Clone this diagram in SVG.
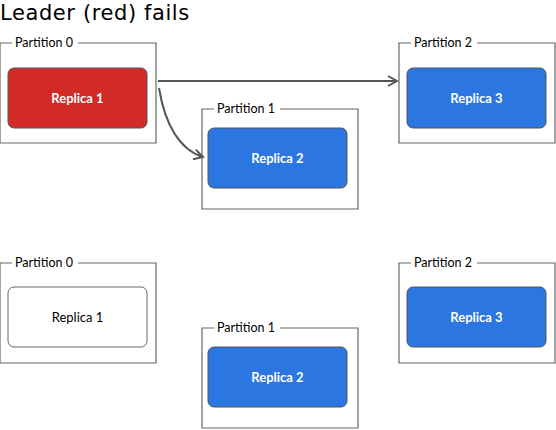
<svg xmlns="http://www.w3.org/2000/svg" width="556" height="430" viewBox="0 0 556 430">
<style>
.part{fill:none;stroke:#666;stroke-width:1.2}
.plabel{font-family:Lato,"Open Sans",sans-serif;font-size:12.5px;fill:#000}
.rep{stroke:#555;stroke-width:1}
.red{fill:#d12a27}
.blue{fill:#2b76e0}
.white{fill:#fff;stroke:#666}
.rtext{font-family:Lato,"Open Sans",sans-serif;font-size:13px;font-weight:bold;text-anchor:middle;fill:#fff}
.rtext.dark{fill:#000;font-weight:normal}
.conn{fill:none;stroke:#555;stroke-width:2}
.title{font-family:"DejaVu Sans",sans-serif;font-size:21px;letter-spacing:0.6px;fill:#000}
</style>
<defs>
<marker id="arr" viewBox="0 0 12 12" refX="10" refY="6" markerWidth="12" markerHeight="12" markerUnits="userSpaceOnUse" orient="auto">
<path d="M1,1 L10,6 L1,11" fill="none" stroke="#555" stroke-width="2"/>
</marker>
</defs>
<text class="title" x="0" y="20">Leader (red) fails</text>

<g id="p0-top">
<path class="part" d="M12,43 H0 V143 H156 V43 H78"/>
<text class="plabel" x="15" y="47">Partition 0</text>
</g>
<g id="r1-top">
<rect class="rep red" x="8" y="68" width="139" height="60" rx="6"/>
<text class="rtext" x="77.5" y="102.5">Replica 1</text>
</g>
<g id="p1-top">
<path class="part" d="M214,109 H202 V209 H358 V109 H280"/>
<text class="plabel" x="217" y="113">Partition 1</text>
</g>
<g id="r2-top">
<rect class="rep blue" x="208" y="128" width="139" height="60" rx="6"/>
<text class="rtext" x="277.5" y="162.5">Replica 2</text>
</g>
<g id="p2-top">
<path class="part" d="M411,43 H399 V143 H555 V43 H477"/>
<text class="plabel" x="414" y="47">Partition 2</text>
</g>
<g id="r3-top">
<rect class="rep blue" x="407" y="68" width="139" height="60" rx="6"/>
<text class="rtext" x="476.5" y="102.5">Replica 3</text>
</g>

<g id="connectors">
<path class="conn" d="M158,81 H397" marker-end="url(#arr)"/>
<path class="conn" d="M159,88 C165,125 180,150 203,157" marker-end="url(#arr)"/>
</g>

<g id="p0-bot">
<path class="part" d="M12,263 H0 V363 H156 V263 H78"/>
<text class="plabel" x="15" y="267">Partition 0</text>
</g>
<g id="r1-bot">
<rect class="rep white" x="8" y="287" width="139" height="60" rx="6"/>
<text class="rtext dark" x="77.5" y="321.5">Replica 1</text>
</g>
<g id="p1-bot">
<path class="part" d="M214,328 H202 V428 H358 V328 H280"/>
<text class="plabel" x="217" y="332">Partition 1</text>
</g>
<g id="r2-bot">
<rect class="rep blue" x="208" y="347" width="139" height="60" rx="6"/>
<text class="rtext" x="277.5" y="381.5">Replica 2</text>
</g>
<g id="p2-bot">
<path class="part" d="M411,263 H399 V363 H555 V263 H477"/>
<text class="plabel" x="414" y="267">Partition 2</text>
</g>
<g id="r3-bot">
<rect class="rep blue" x="407" y="287" width="139" height="60" rx="6"/>
<text class="rtext" x="476.5" y="321.5">Replica 3</text>
</g>
</svg>
